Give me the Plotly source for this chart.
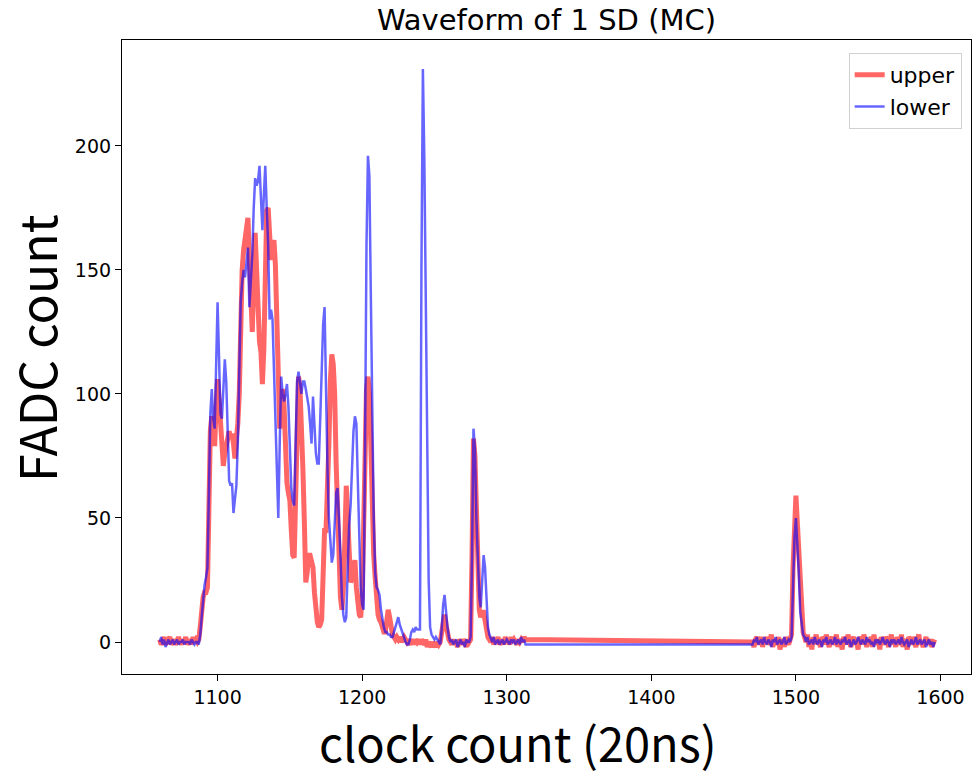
import plotly.graph_objects as go

# Clock counts (20 ns units): two recorded windows
clock_seg1 = list(range(1060, 1314))
clock_seg2 = list(range(1470, 1597))

upper_seg1 = [
    1, -1, 0, 2, -1, 0, 1, 2, -1, 0,
    1, -1, 0, 2, 0, -1, 1, 0, 2, -1,
    0, 1, -1, 2, 0, 1, 0, 1, 6, 15,
    18, 20, 20, 22, 60, 85, 91, 82, 79, 95,
    106, 98, 90, 78, 71, 76, 80, 84, 85, 82,
    84, 80, 74, 82, 88, 100, 130, 150, 158, 163,
    170, 171, 155, 130, 125, 145, 165, 150, 125, 121,
    117, 104, 118, 155, 174, 175, 162, 154, 160, 162,
    152, 125, 114, 86, 96, 102, 95, 70, 64, 60,
    57, 45, 35, 34, 60, 90, 107, 102, 90, 70,
    49, 24, 28, 35, 35, 32, 30, 20, 13, 8,
    6, 7, 9, 35, 45, 45, 60, 80, 105, 116,
    112, 100, 72, 52, 36, 18, 13, 22, 40, 63,
    50, 40, 24, 26, 30, 33, 22, 13, 11, 10,
    18, 45, 80, 102, 107, 100, 80, 50, 35, 26,
    18, 11, 9, 8, 6, 4, 4, 8, 13, 10,
    6, 3, 2, 1, 2, 1, 2, 0, 1, 2,
    1, 0, 1, -1, 0, 1, -1, 1, 0, 1,
    -1, 1, 0, -1, 1, -2, 0, -1, -2, 0,
    -1, -2, 0, -1, 0, 4, 9, 11, 7, 3,
    1, 0, -1, 1, -1, 0, -2, 1, 0, -1,
    1, 0, -2, 1, 0, 1, 35, 82, 75, 50,
    30, 13, 10, 12, 12, 8, 4, 2, 1, 0,
    2, -1, 1, 0, 2, -1, 0, 1, -1, 2,
    0, 1, -1, 2, 0, 1, 0, -1, 1, 0,
    1, 0, 2, 1,
]
upper_seg2 = [
    0, -2, 1, 2, -1, 0, 2, -2, 1, 0,
    2, -1, 0, 3, -2, 1, 0, -1, 2, -3,
    0, 1, -2, 2, 0, -1, 1, 3, 30, 50,
    59, 48, 36, 20, 8, 4, 2, 0, 3, -2,
    1, -3, 2, 0, 3, -1, 0, -2, 2, 1,
    -1, 3, 0, -2, 1, 2, -1, 0, 3, -2,
    1, 0, -3, 2, 1, -1, 3, 0, -2, 1,
    2, -1, 0, -3, 2, 1, -1, 3, 0, -2,
    1, 0, 2, -2, 3, -1, 0, 1, -3, 2,
    0, -1, 2, 1, -2, 0, 3, -1, 1, -2,
    2, 0, -1, 3, -2, 1, 0, -3, 2, 1,
    -1, 2, 0, -2, 1, 3, -1, 0, -2, 1,
    2, -1, 0, 1, -2, 0, 1,
]

lower_seg1 = [
    0, 2, -1, 1, -2, 0, 1, -1, 0, 1,
    -1, 0, 1, -1, 0, 0, 1, -1, 0, 0,
    0, -1, 1, 0, -1, 0, 0, -1, 3, 10,
    17, 23, 26, 30, 60, 92, 102, 90, 86, 110,
    137, 115, 92, 90, 100, 114, 105, 85, 65, 63,
    64, 52, 58, 63, 80, 104, 137, 145, 150, 147,
    155, 159, 135, 145, 156, 175, 187, 184, 186, 192,
    180, 166, 180, 192, 175, 160, 130, 134, 130, 110,
    91, 70, 50, 80, 107, 100, 97, 100, 104, 95,
    80, 62, 57, 55, 80, 105, 109, 103, 100, 105,
    105, 102, 98, 95, 88, 80, 99, 88, 76, 72,
    72, 90, 110, 128, 135, 100, 70, 50, 40, 32,
    35, 49, 60, 62, 50, 35, 18, 11, 8, 10,
    30, 47, 55, 68, 85, 91, 88, 65, 40, 22,
    15, 13, 80, 160, 196, 188, 140, 90, 50, 28,
    22, 21, 19, 13, 9, 6, 4, 4, 3, 3,
    2, 2, 4, 6, 9, 10, 7, 5, 3, 1,
    0, -1, -1, 1, 4, 5, 4, 6, 5, 5,
    5, 150, 231, 195, 140, 75, 25, 6, 3, 2,
    1, 2, 1, 0, -1, 5, 15, 19, 12, 6,
    2, 0, 1, -1, 0, 1, -2, 0, 1, -1,
    0, -2, 1, 0, 0, 2, 35, 86, 78, 50,
    30, 18, 14, 25, 35, 30, 14, 6, 3, 1,
    0, 2, -1, 0, 1, -1, 0, 1, -1, 0,
    1, 0, -1, 1, 0, 1, -1, 0, 1, -1,
    2, 0, 1, -1,
]
lower_seg2 = [
    -1, 1, 0, 2, -1, 0, 1, -1, 2, 0,
    -1, 1, 0, -2, 1, 0, 2, -1, 0, 1,
    -1, 0, 2, -1, 0, 1, 0, 2, 22, 42,
    50, 40, 28, 12, 6, 3, 2, 0, 2, -1,
    0, 1, -1, 2, 0, -1, 1, 0, -2, 1,
    0, 2, -1, 0, 1, -1, 0, 2, -1, 1,
    0, -1, 1, 0, 2, -1, 0, 1, -2, 0,
    1, -1, 0, 2, 0, -1, 1, 0, -1, 2,
    0, 1, -1, 0, -2, 1, 0, 1, -1, 0,
    2, 0, -1, 1, 0, -2, 1, 0, 1, -1,
    0, 1, -1, 2, 0, -1, 0, 1, -2, 0,
    1, -1, 0, 2, -1, 0, 1, -1, 0, 1,
    -2, 0, 1, -1, 0, -2, 0,
]

x_ticks = [1100, 1200, 1300, 1400, 1500, 1600]
y_ticks = [0, 50, 100, 150, 200]

clock = clock_seg1 + clock_seg2
upper = upper_seg1 + upper_seg2
lower = lower_seg1 + lower_seg2

fig = go.Figure()
fig.add_trace(go.Scatter(x=clock, y=upper, mode="lines", name="upper",
                         line=dict(color="rgba(255,0,0,0.6)", width=5)))
fig.add_trace(go.Scatter(x=clock, y=lower, mode="lines", name="lower",
                         line=dict(color="rgba(0,0,255,0.6)", width=2.5)))

tick_font = dict(family="DejaVu Sans", size=19, color="black")
axis_common = dict(showgrid=False, zeroline=False, showline=True, linecolor="black",
                   linewidth=1.2, mirror=True, ticks="outside", ticklen=6,
                   tickwidth=1.2, tickcolor="black", tickfont=tick_font)

fig.update_layout(
    width=973, height=778,
    margin=dict(l=122, r=2, t=40, b=104),
    plot_bgcolor="white", paper_bgcolor="white",
    title=dict(text="Waveform of 1 SD (MC)", x=0.5, xref="paper", xanchor="center",
               y=1 - 20 / 778, yref="container", yanchor="middle",
               font=dict(family="DejaVu Sans", size=29, color="black")),
    xaxis=dict(range=[1033.9, 1621.1], tickvals=x_ticks, **axis_common),
    yaxis=dict(range=[-12.9, 242.7], tickvals=y_ticks, **axis_common),
    legend=dict(x=0.989, xanchor="right", y=0.9795, yanchor="top",
                bgcolor="rgba(255,255,255,0.8)", bordercolor="#d0d0d0", borderwidth=1,
                font=dict(family="DejaVu Sans", size=22, color="black")),
    showlegend=True,
    annotations=[
        dict(text="clock count (20ns)", xref="paper", yref="paper", x=0.4664, y=-0.107,
             xanchor="center", yanchor="middle", showarrow=False,
             font=dict(family="Noto Sans CJK JP", size=47, color="black")),
        dict(text="FADC count", xref="paper", yref="paper", x=-0.1025, y=0.514,
             xanchor="center", yanchor="middle", textangle=-90, showarrow=False,
             font=dict(family="Noto Sans CJK JP", size=50, color="black")),
    ],
)

fig.write_html("out.html", config={"displayModeBar": False},
               post_script="document.body.style.margin = '0px';")
